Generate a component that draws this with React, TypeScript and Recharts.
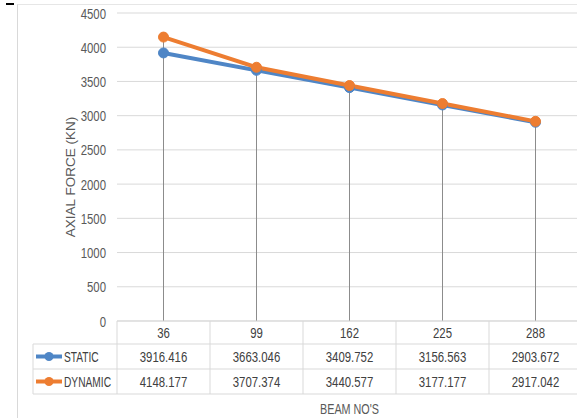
import React from 'react';
import { LineChart, Line, XAxis, YAxis, CartesianGrid, ReferenceLine } from 'recharts';

const categories = ['36', '99', '162', '225', '288'];
const staticValues = [3916.416, 3663.046, 3409.752, 3156.563, 2903.672];
const dynamicValues = [4148.177, 3707.374, 3440.577, 3177.177, 2917.042];
const staticLabels = ['3916.416', '3663.046', '3409.752', '3156.563', '2903.672'];
const dynamicLabels = ['4148.177', '3707.374', '3440.577', '3177.177', '2917.042'];
const yTicks = [0, 500, 1000, 1500, 2000, 2500, 3000, 3500, 4000, 4500];

const seriesNames = ['STATIC', 'DYNAMIC'];
const seriesColors = ['#4F86C6', '#ED7D31'];

const data = categories.map((c, i) => ({
  beam: c,
  static: staticValues[i],
  dynamic: dynamicValues[i],
  staticLabel: staticLabels[i],
  dynamicLabel: dynamicLabels[i],
}));

const FONT = '"Liberation Sans", Arial, sans-serif';
const SX = 0.76;
const FS = 15;
const GRID = '#d9d9d9';
const ROW_H = [23, 25, 25];
const LEGEND_W = 84;

const NText = ({ x, y, anchor, fill, size, sx, children }: any) => (
  <text
    transform={`translate(${x},${y}) scale(${sx || SX},1)`}
    x={0}
    y={0}
    textAnchor={anchor}
    style={{ fontFamily: FONT, fontSize: size || FS, fill: fill || '#404040' }}
  >
    {children}
  </text>
);

const YTick = (props: any) => {
  const { x, y, payload } = props;
  return <NText x={x} y={y + 5.5} anchor="end" fill="#595959">{String(payload.value)}</NText>;
};

const TableTick = (props: any) => {
  const { x, y, payload, index } = props;
  const half = payload && payload.offset ? payload.offset : 46.5;
  const left = x - half;
  const right = x + half;
  const y0 = y;
  const y1 = y0 + ROW_H[0];
  const y2 = y1 + ROW_H[1];
  const y3 = y2 + ROW_H[2];
  const d = data[index];
  return (
    <g>
      <line x1={right} y1={y0} x2={right} y2={y3} stroke={GRID} />
      {index === 0 && <line x1={left} y1={y0} x2={left} y2={y3} stroke={GRID} />}
      <line x1={left} y1={y1} x2={right} y2={y1} stroke={GRID} />
      <line x1={left} y1={y2} x2={right} y2={y2} stroke={GRID} />
      <line x1={left} y1={y3} x2={right} y2={y3} stroke={GRID} />
      <NText x={x} y={y0 + ROW_H[0] / 2 + 5.5} anchor="middle">{d.beam}</NText>
      <NText x={x} y={y1 + ROW_H[1] / 2 + 5.5} anchor="middle">{d.staticLabel}</NText>
      <NText x={x} y={y2 + ROW_H[2] / 2 + 5.5} anchor="middle">{d.dynamicLabel}</NText>
      {index === 0 && (
        <g>
          <line x1={left - LEGEND_W} y1={y1} x2={left} y2={y1} stroke={GRID} />
          <line x1={left - LEGEND_W} y1={y2} x2={left} y2={y2} stroke={GRID} />
          <line x1={left - LEGEND_W} y1={y3} x2={left} y2={y3} stroke={GRID} />
          <line x1={left - LEGEND_W} y1={y1} x2={left - LEGEND_W} y2={y3} stroke={GRID} />
          {seriesNames.map((name, k) => {
            const cy = (k === 0 ? y1 + ROW_H[1] / 2 : y2 + ROW_H[2] / 2);
            const lx = left - LEGEND_W + 3;
            return (
              <g key={name}>
                <line x1={lx} y1={cy} x2={lx + 26} y2={cy} stroke={seriesColors[k]} strokeWidth={4} />
                <circle cx={lx + 13} cy={cy} r={4.5} fill={seriesColors[k]} />
                <NText x={lx + 28} y={cy + 5.5} anchor="start" sx={0.68}>{name}</NText>
              </g>
            );
          })}
        </g>
      )}
    </g>
  );
};

const XTitle = (props: any) => {
  const vb = props.viewBox || {};
  return (
    <NText x={vb.x + vb.width / 2} y={vb.y + vb.height - 4} anchor="middle" fill="#595959" sx={0.72}>BEAM NO'S</NText>
  );
};

const YTitle = (props: any) => {
  const vb = props.viewBox || {};
  const cx = vb.x + 53;
  const cy = vb.y + vb.height / 2 + 10;
  return (
    <text x={cx} y={cy} textAnchor="middle" transform={`rotate(-90, ${cx}, ${cy})`}
      dominantBaseline="central"
      style={{ fontFamily: FONT, fontSize: 13.5, fill: '#595959' }}>AXIAL FORCE (KN)</text>
  );
};

export default function App() {
  return (
    <div style={{ position: 'absolute', left: 0, top: 0, width: 577, height: 418, overflow: 'hidden', background: '#fff' }}>
      <div style={{ position: 'absolute', left: 17, top: 4, width: 620, height: 500, borderLeft: '1px solid #d9d9d9', borderTop: '1px solid #e6e6e6' }} />
      <div style={{ position: 'absolute', left: 6, top: 3, width: 8, height: 2, background: '#000' }} />
      <div style={{ position: 'absolute', left: 0, top: 0 }}>
        <LineChart width={600} height={418} data={data} margin={{ top: 13, right: 18, bottom: 0, left: 17 }}>
          <CartesianGrid vertical={false} stroke={GRID} strokeWidth={1} />
          <YAxis
            domain={[0, 4500]}
            ticks={yTicks}
            interval={0}
            width={100}
            axisLine={false}
            tickLine={false}
            tickMargin={5}
            tick={<YTick />}
            label={<YTitle />}
          />
          <XAxis
            dataKey="beam"
            scale="band"
            height={97}
            interval={0}
            tickLine={false}
            tickSize={0}
            tickMargin={0}
            axisLine={{ stroke: GRID }}
            tick={<TableTick />}
            label={<XTitle />}
          />
          {data.map((d) => (
            <ReferenceLine
              key={d.beam}
              segment={[{ x: d.beam, y: 0 }, { x: d.beam, y: Math.max(d.static, d.dynamic) }]}
              stroke="#8c8c8c"
              strokeWidth={1}
            />
          ))}
          <Line dataKey="static" stroke={seriesColors[0]} strokeWidth={4} isAnimationActive={false}
            dot={{ r: 5, fill: seriesColors[0], stroke: seriesColors[0], strokeWidth: 1 }} />
          <Line dataKey="dynamic" stroke={seriesColors[1]} strokeWidth={4} isAnimationActive={false}
            dot={{ r: 5, fill: seriesColors[1], stroke: seriesColors[1], strokeWidth: 1 }} />
        </LineChart>
      </div>
    </div>
  );
}
